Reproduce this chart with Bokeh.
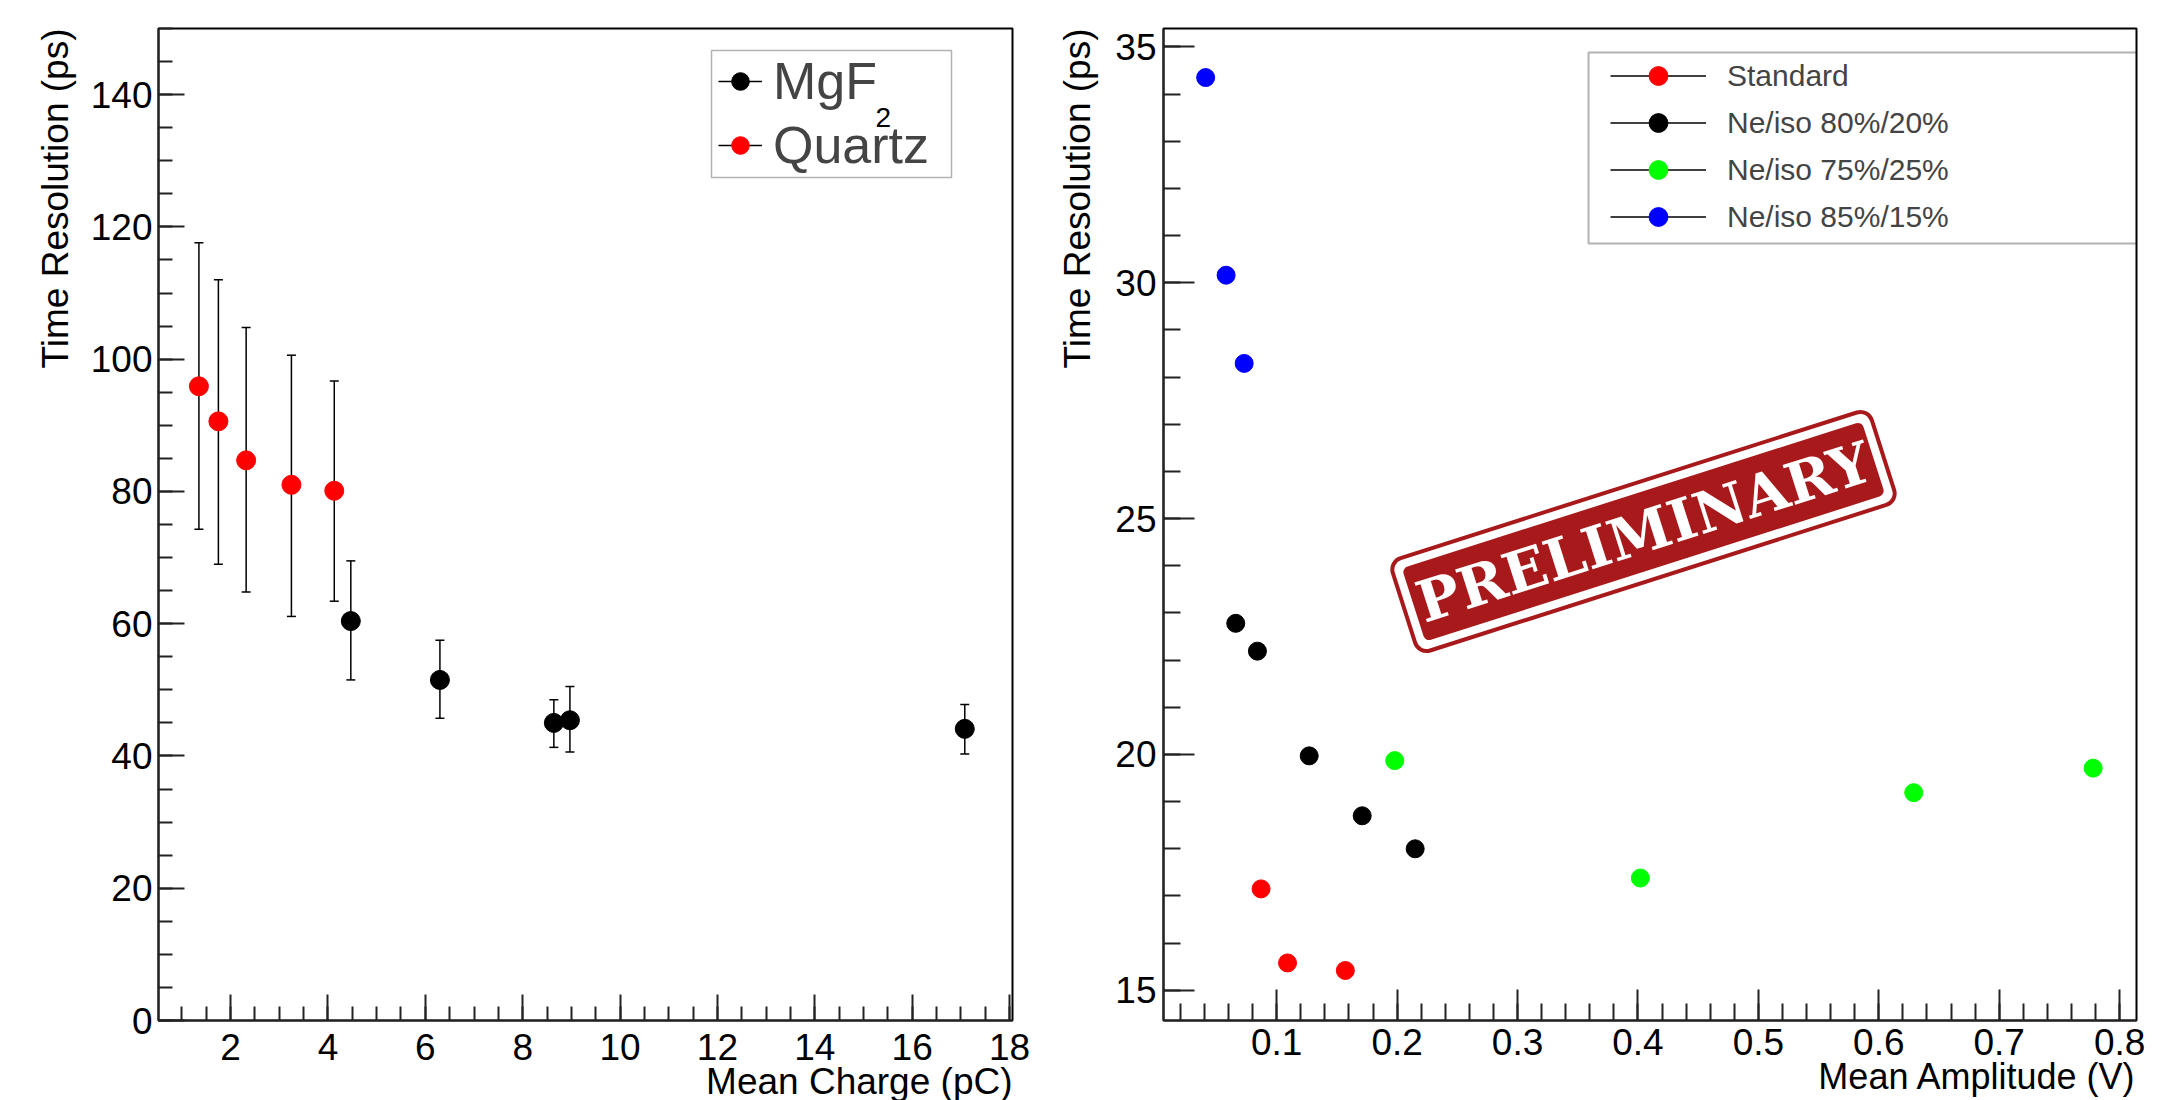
from bokeh.plotting import figure
from bokeh.models import (Range1d, SingleIntervalTicker, ColumnDataSource, Whisker, TeeHead,
                          Legend, LegendItem, BoxAnnotation, Label, Title)
from bokeh.layouts import row
from bokeh.embed import file_html
from bokeh.resources import INLINE

# ---------------- data: left panel ----------------
quartz_x = [1.35, 1.75, 2.32, 3.25, 4.13]
quartz_y = [95.9, 90.6, 84.7, 81.0, 80.1]
quartz_lo = [74.3, 69.0, 64.8, 61.1, 63.4]
quartz_hi = [117.6, 112.0, 104.8, 100.6, 96.7]

mgf_x = [4.47, 6.30, 8.64, 8.97, 17.08]
mgf_y = [60.4, 51.5, 45.0, 45.4, 44.1]
mgf_lo = [51.5, 45.7, 41.3, 40.6, 40.3]
mgf_hi = [69.5, 57.5, 48.5, 50.5, 47.8]

# ---------------- data: right panel ----------------
std_x = [0.087, 0.109, 0.157]
std_y = [17.15, 15.58, 15.42]
ne80_x = [0.066, 0.084, 0.127, 0.171, 0.215]
ne80_y = [22.78, 22.19, 19.97, 18.70, 18.00]
ne75_x = [0.198, 0.402, 0.629, 0.778]
ne75_y = [19.87, 17.38, 19.19, 19.71]
ne85_x = [0.041, 0.058, 0.073]
ne85_y = [34.35, 30.16, 28.29]

FONT = "Liberation Sans"


def style_axes(p, tick_in, minor_in, label_size, xstand, ystand):
    for ax in (p.xaxis[0], p.yaxis[0]):
        ax.axis_line_width = 2
        ax.axis_line_color = "#222222"
        ax.major_tick_in = tick_in
        ax.major_tick_out = 0
        ax.minor_tick_in = minor_in
        ax.minor_tick_out = 0
        ax.major_tick_line_width = 2
        ax.minor_tick_line_width = 2
        ax.major_tick_line_color = "#222222"
        ax.minor_tick_line_color = "#222222"
        ax.major_label_text_font = FONT
        ax.major_label_text_font_size = label_size
        ax.major_label_text_color = "black"
    p.xaxis[0].major_label_standoff = xstand
    p.yaxis[0].major_label_standoff = ystand
    p.xgrid.visible = False
    p.ygrid.visible = False
    p.outline_line_color = "black"
    p.outline_line_width = 2
    p.background_fill_color = "white"
    p.border_fill_color = "white"


def axis_title(p, text, side, size, standoff):
    # ROOT-style axis title, aligned with the end of the axis
    p.add_layout(Title(text=text, align="right", text_font=FONT, text_font_size=size,
                       text_font_style="normal", text_color="black", standoff=standoff),
                 side)


# ================= left panel =================
p1 = figure(width=1040, height=1100, x_range=Range1d(0.52, 18.06), y_range=Range1d(0, 150),
            output_backend="svg", toolbar_location=None,
            min_border_left=158, min_border_right=28, min_border_top=28, min_border_bottom=78)
p1.xaxis[0].ticker = SingleIntervalTicker(interval=2, num_minor_ticks=4)
p1.yaxis[0].ticker = SingleIntervalTicker(interval=20, num_minor_ticks=4)
style_axes(p1, 26, 14, "37px", 13, 6)
axis_title(p1, "Mean Charge (pC)", "below", "37px", -8)
axis_title(p1, "Time Resolution (ps)", "left", "37px", 23)

q_src = ColumnDataSource(dict(x=quartz_x, y=quartz_y, lo=quartz_lo, hi=quartz_hi))
m_src = ColumnDataSource(dict(x=mgf_x, y=mgf_y, lo=mgf_lo, hi=mgf_hi))
for src in (q_src, m_src):
    w = Whisker(base="x", lower="lo", upper="hi", source=src, dimension="height",
                line_color="black", line_width=1.5, level="underlay",
                upper_head=TeeHead(size=9, line_width=1.5, line_color="black"),
                lower_head=TeeHead(size=9, line_width=1.5, line_color="black"))
    p1.add_layout(w)

# one-point lines: draw nothing in the plot, give the legend its line
m_line = p1.line(mgf_x[:1], mgf_y[:1], line_color="black", line_width=1.5)
m_sc = p1.scatter("x", "y", source=m_src, size=19, color="black")
q_line = p1.line(quartz_x[:1], quartz_y[:1], line_color="black", line_width=1.5)
q_sc = p1.scatter("x", "y", source=q_src, size=19, color="red")

leg1 = Legend(items=[LegendItem(label="MgF", renderers=[m_line, m_sc]),
                     LegendItem(label="Quartz", renderers=[q_line, q_sc])],
              location=(560, 843), padding=0, spacing=0, glyph_width=44, glyph_height=64,
              label_height=64, label_standoff=11, label_text_font=FONT,
              label_text_font_size="52px", border_line_alpha=0, background_fill_alpha=0)
p1.add_layout(leg1)
p1.add_layout(BoxAnnotation(left=553, right=793, top=970, bottom=843,
                            left_units="screen", right_units="screen",
                            top_units="screen", bottom_units="screen",
                            fill_color=None, fill_alpha=0, line_color="black", line_width=1.5))
p1.add_layout(Label(x=717, y=903, x_units="screen", y_units="screen", text="2",
                    text_font=FONT, text_font_size="28px", text_baseline="middle",
                    text_align="left", text_color="black"))

# ================= right panel =================
p2 = figure(width=1141, height=1100, x_range=Range1d(0.006, 0.814), y_range=Range1d(14.36, 35.39),
            output_backend="svg", toolbar_location=None,
            min_border_left=122, min_border_right=45, min_border_top=26, min_border_bottom=80)
p2.xaxis[0].ticker = SingleIntervalTicker(interval=0.1, num_minor_ticks=5)
p2.yaxis[0].ticker = SingleIntervalTicker(interval=5, num_minor_ticks=5)
style_axes(p2, 31, 17, "37px", 8, 7)
axis_title(p2, "Mean Amplitude (V)", "below", "36px", -8)
axis_title(p2, "Time Resolution (ps)", "left", "37px", 29)

series = [("Standard", std_x, std_y, "red"),
          ("Ne/iso 80%/20%", ne80_x, ne80_y, "black"),
          ("Ne/iso 75%/25%", ne75_x, ne75_y, "#00ff00"),
          ("Ne/iso 85%/15%", ne85_x, ne85_y, "blue")]
items2 = []
for name, xs, ys, col in series:
    ln = p2.line(xs[:1], ys[:1], line_color="black", line_width=1.5)
    sc = p2.scatter(xs, ys, size=18, color=col)
    items2.append(LegendItem(label=name, renderers=[ln, sc]))

leg2 = Legend(items=items2, location=(447, 780), padding=0, spacing=0, glyph_width=96,
              glyph_height=47, label_height=47, label_standoff=21, label_text_font=FONT,
              label_text_font_size="30px", border_line_alpha=0, background_fill_alpha=0)
p2.add_layout(leg2)
p2.add_layout(BoxAnnotation(left=425, right=974, top=968, bottom=777,
                            left_units="screen", right_units="screen",
                            top_units="screen", bottom_units="screen",
                            fill_color=None, fill_alpha=0, line_color="black", line_width=2))

# PRELIMINARY stamp (outer frame first, filled band on top)
stamp_color = "#a8191b"
p2.add_layout(Label(x=480, y=489, x_units="screen", y_units="screen", text="PRELIMINARY",
                    angle=0.309, text_align="center", text_baseline="middle",
                    text_font="DejaVu Serif", text_font_style="bold", text_font_size="57px",
                    text_color=stamp_color, background_fill_color="white",
                    border_line_color=stamp_color, border_line_width=4,
                    padding=15, border_radius=12))
p2.add_layout(Label(x=480, y=489, x_units="screen", y_units="screen", text="PRELIMINARY",
                    angle=0.309, text_align="center", text_baseline="middle",
                    text_font="DejaVu Serif", text_font_style="bold", text_font_size="57px",
                    text_color="white", background_fill_color=stamp_color,
                    padding=5, border_radius=6))

layout = row(p1, p2)
open("out.html", "w").write(file_html(layout, INLINE))
